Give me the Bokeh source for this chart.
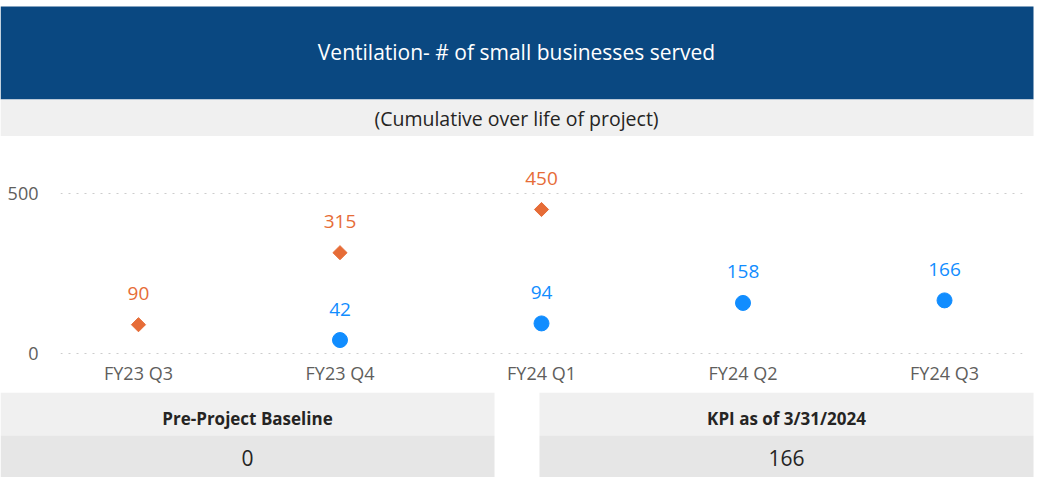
from bokeh.plotting import figure
from bokeh.models import FactorRange, Range1d, FixedTicker, ColumnDataSource
from bokeh.embed import file_html
from bokeh.resources import INLINE
from bokeh.core.properties import value
import math

# ---------------- data ----------------
title_text = "Ventilation- # of small businesses served"
subtitle_text = "(Cumulative over life of project)"
categories = ["FY23 Q3", "FY23 Q4", "FY24 Q1", "FY24 Q2", "FY24 Q3"]
target_quarters = ["FY23 Q3", "FY23 Q4", "FY24 Q1"]
target_values = [90, 315, 450]
actual_quarters = ["FY23 Q4", "FY24 Q1", "FY24 Q2", "FY24 Q3"]
actual_values = [42, 94, 158, 166]
y_ticks = [0, 500]
card_titles = ["Pre-Project Baseline", "KPI as of 3/31/2024"]
card_values = [0, 166]

# ---------------- styles ----------------
FONT = "Open Sans"
NAVY = "#0A4881"
ORANGE = "#E66C37"
BLUE = "#118DFF"
GRAY_TXT = "#605E5C"
DARK_TXT = "#252423"
W = 1050


def blank(width, height):
    f = figure(width=width, height=height, output_backend="svg", toolbar_location=None,
               x_range=Range1d(0, width), y_range=Range1d(height, 0),
               x_axis_location=None, y_axis_location=None, min_border=0)
    f.xgrid.visible = False
    f.ygrid.visible = False
    f.outline_line_color = None
    f.background_fill_color = "white"
    f.border_fill_color = "white"
    return f

# header + subtitle bands
top = blank(W, 136)
top.quad(left=0, right=1033, top=6, bottom=99, fill_color=NAVY, line_color=None)
top.quad(left=0, right=1033, top=99, bottom=136, fill_color="#F0F0F0", line_color=None)
top.text(x=[516], y=[51], text=[title_text], text_color="white", text_font=value(FONT),
         text_font_size="21px", text_align="center", text_baseline="middle")
top.text(x=[516], y=[118], text=[subtitle_text], text_color=DARK_TXT, text_font=value(FONT),
         text_font_size="19.5px", text_align="center", text_baseline="middle")

# chart
p = figure(width=W, height=256, output_backend="svg", toolbar_location=None,
           x_range=FactorRange(*categories, range_padding=-0.113, range_padding_units="absolute"),
           y_range=Range1d(-21.875, 650),
           min_border_left=60, min_border_right=28, min_border_top=9, min_border_bottom=32)
p.outline_line_color = None
p.background_fill_color = "white"
p.border_fill_color = "white"
p.xgrid.visible = False
p.ygrid.grid_line_color = "#CCCCCC"
p.ygrid.grid_line_dash = "2 6"
p.ygrid.grid_line_width = 1
p.yaxis.ticker = FixedTicker(ticks=y_ticks)
for ax in (p.xaxis[0], p.yaxis[0]):
    ax.axis_line_color = None
    ax.major_tick_line_color = None
    ax.minor_tick_line_color = None
    ax.major_tick_in = 0
    ax.major_tick_out = 0
    ax.major_label_text_font = FONT
    ax.major_label_text_font_size = "18px"
    ax.major_label_text_color = GRAY_TXT
p.yaxis.major_label_standoff = 22
p.xaxis.major_label_standoff = 0

tsrc = ColumnDataSource(dict(x=target_quarters, y=target_values, t=[str(v) for v in target_values]))
asrc = ColumnDataSource(dict(x=actual_quarters, y=actual_values, t=[str(v) for v in actual_values]))

p.scatter(x="x", y="y", source=tsrc, marker="square", angle=math.pi / 4, size=10,
          fill_color=ORANGE, line_color=ORANGE)
p.scatter(x="x", y="y", source=asrc, marker="circle", size=15,
          fill_color=BLUE, line_color=BLUE)
p.text(x="x", y="y", text="t", source=tsrc, y_offset=-31, text_color=ORANGE,
       text_font=value(FONT), text_font_size="19px", text_align="center", text_baseline="middle")
p.text(x="x", y="y", text="t", source=asrc, y_offset=-31, text_color=BLUE,
       text_font=value(FONT), text_font_size="19px", text_align="center", text_baseline="middle")

# KPI cards
cards = blank(W, 85)
card_left = [0, 539]
card_right = [494, 1033]
cards.quad(left=card_left, right=card_right, top=[0, 0], bottom=[43, 43],
           fill_color="#F0F0F0", line_color=None)
cards.quad(left=card_left, right=card_right, top=[43, 43], bottom=[85, 85],
           fill_color="#E6E6E6", line_color=None)
cards.text(x=[247, 786], y=[26, 26], text=card_titles, text_color=DARK_TXT,
           text_font=value(FONT), text_font_size="17px", text_font_style="bold",
           text_align="center", text_baseline="middle")
cards.text(x=[247, 786], y=[65, 65], text=[str(v) for v in card_values], text_color=DARK_TXT,
           text_font=value(FONT), text_font_size="21px",
           text_align="center", text_baseline="middle")

open("out.html", "w").write(file_html([top, p, cards], INLINE))
